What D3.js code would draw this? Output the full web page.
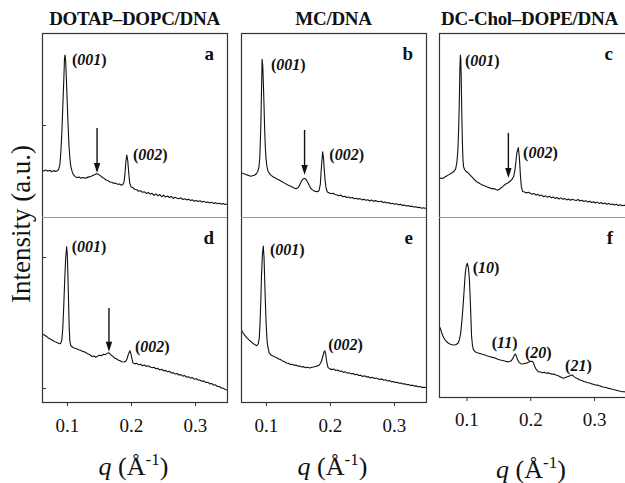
<!DOCTYPE html>
<html>
<head>
<meta charset="utf-8">
<script src="https://cdn.jsdelivr.net/npm/d3@7"></script>
<style>
  body { margin: 0; background: #fff; }
  svg { display: block; }
  text { font-family: "Liberation Serif", "Times New Roman", serif; fill: #111; }
</style>
</head>
<body>
<div id="chart"></div>
<script>
// column titles and q ticks
const titles = ["DOTAP\u2013DOPC/DNA", "MC/DNA", "DC-Chol\u2013DOPE/DNA"];
const qTicks = [0.1, 0.2, 0.3];
const letters = ["a", "b", "c", "d", "e", "f"];

// intensity (a.u.) vs q, [q, I]
const seriesA = [[0.061,25.5],[0.064,25.0],[0.067,25.6],[0.070,24.9],[0.073,25.4],[0.076,24.6],[0.079,25.2],[0.082,24.8],[0.085,25.1],[0.087,25.9],[0.089,28.5],[0.0905,35.5],[0.092,45.7],[0.0935,60],[0.095,74],[0.0962,86.5],[0.097,88.0],[0.098,84.5],[0.099,76],[0.100,66.3],[0.1015,52],[0.103,40],[0.1045,32],[0.106,27.5],[0.108,24.8],[0.110,23.0],[0.113,21.9],[0.116,21.4],[0.119,21.7],[0.122,21.1],[0.125,21.5],[0.128,21.0],[0.131,21.4],[0.134,21.8],[0.137,21.9],[0.140,22.5],[0.143,23.0],[0.146,23.5],[0.149,23.2],[0.152,22.5],[0.155,21.6],[0.158,21.0],[0.161,20.1],[0.164,19.8],[0.167,19.0],[0.170,18.9],[0.173,18.3],[0.176,18.4],[0.179,17.8],[0.182,17.9],[0.185,17.3],[0.187,17.6],[0.189,18.8],[0.1905,23],[0.192,30],[0.1935,33.7],[0.195,30.5],[0.1965,24],[0.198,18.5],[0.200,16.4],[0.203,15.9],[0.206,15.1],[0.209,14.8],[0.212,14.0],[0.215,14.3],[0.218,13.4],[0.221,13.7],[0.224,12.8],[0.227,13.3],[0.230,12.4],[0.233,12.9],[0.236,11.8],[0.239,12.6],[0.242,11.5],[0.245,12.2],[0.248,11.0],[0.251,11.9],[0.254,10.8],[0.257,11.4],[0.260,10.6],[0.263,11.2],[0.266,10.1],[0.269,10.7],[0.272,10.2],[0.275,9.9],[0.278,10.4],[0.281,9.5],[0.284,9.9],[0.287,9.3],[0.290,9.7],[0.293,9.0],[0.296,9.3],[0.299,8.6],[0.302,9.0],[0.305,8.4],[0.308,8.8],[0.311,8.1],[0.314,8.5],[0.317,7.9],[0.320,8.2],[0.323,7.6],[0.326,8.0],[0.329,7.4],[0.332,7.8],[0.335,7.2],[0.338,7.5],[0.341,7.0],[0.344,7.3],[0.347,6.8],[0.350,7.1]];

const seriesB = [[0.061,24.1],[0.064,23.6],[0.067,23.4],[0.070,22.9],[0.073,22.5],[0.076,22.1],[0.079,22.4],[0.082,22.7],[0.085,23.5],[0.087,24.6],[0.089,27],[0.0905,33],[0.092,50],[0.093,68],[0.094,85.7],[0.095,82],[0.096,72],[0.097,60],[0.098,47],[0.099,38],[0.100,32],[0.1015,27.5],[0.103,25.2],[0.105,23.8],[0.108,22.6],[0.111,21.9],[0.114,21.3],[0.117,20.7],[0.120,20.2],[0.123,19.6],[0.126,19.0],[0.129,18.4],[0.132,17.8],[0.135,17.2],[0.138,16.8],[0.141,16.3],[0.144,15.8],[0.147,15.4],[0.150,15.9],[0.152,16.9],[0.154,18.4],[0.156,19.8],[0.158,20.6],[0.160,21.0],[0.162,20.6],[0.164,19.6],[0.166,18.3],[0.168,16.9],[0.170,15.7],[0.172,14.9],[0.175,14.2],[0.178,13.9],[0.181,13.8],[0.183,14.4],[0.185,18],[0.186,24],[0.1875,31],[0.1886,35.5],[0.190,31.5],[0.191,26],[0.1925,19.5],[0.194,15.5],[0.196,13.6],[0.199,13.1],[0.202,12.6],[0.205,12.9],[0.208,12.2],[0.211,12.0],[0.214,11.6],[0.217,11.9],[0.220,11.0],[0.223,11.3],[0.226,10.6],[0.229,10.9],[0.232,10.3],[0.235,10.6],[0.238,9.9],[0.241,10.2],[0.244,9.6],[0.247,10.0],[0.250,9.3],[0.253,9.7],[0.256,9.1],[0.259,9.4],[0.262,8.7],[0.265,9.2],[0.268,8.6],[0.271,8.9],[0.274,8.5],[0.277,8.3],[0.280,8.6],[0.283,7.9],[0.286,8.2],[0.289,7.6],[0.292,7.9],[0.295,7.2],[0.298,7.5],[0.301,6.9],[0.304,7.2],[0.307,6.6],[0.310,6.9],[0.313,6.3],[0.316,6.5],[0.319,6.0],[0.322,6.2],[0.325,5.7],[0.328,5.9],[0.331,5.4],[0.334,5.6],[0.337,5.1],[0.340,5.3],[0.343,4.8],[0.346,5.0],[0.350,4.6]];

const seriesC = [[0.057,20.8],[0.060,21.2],[0.063,20.9],[0.066,21.7],[0.069,22.3],[0.072,22.9],[0.075,23.5],[0.078,24.2],[0.081,25.0],[0.083,26.0],[0.085,29.5],[0.0865,36],[0.0878,48],[0.0888,62],[0.0897,80],[0.0904,88.0],[0.0912,86],[0.092,72],[0.0928,55],[0.0937,40],[0.0946,31],[0.0955,27.4],[0.097,25.8],[0.099,24.9],[0.101,24.5],[0.104,23.4],[0.107,22.3],[0.110,21.2],[0.113,20.1],[0.116,19.2],[0.119,18.6],[0.122,17.9],[0.125,17.4],[0.128,17.0],[0.131,16.6],[0.134,16.1],[0.137,15.8],[0.140,15.3],[0.143,15.5],[0.146,14.9],[0.149,14.6],[0.152,15.2],[0.155,16.0],[0.158,16.9],[0.161,17.8],[0.164,18.4],[0.1657,18.6],[0.168,19.3],[0.171,20.3],[0.174,22.0],[0.176,25.5],[0.1775,30],[0.179,35],[0.1813,37.7],[0.183,32],[0.1845,23],[0.186,16.5],[0.188,13.9],[0.191,13.6],[0.194,13.1],[0.197,13.4],[0.200,12.9],[0.203,12.4],[0.206,12.8],[0.209,11.9],[0.212,12.3],[0.215,11.5],[0.218,11.9],[0.221,11.0],[0.224,11.5],[0.227,10.7],[0.230,11.3],[0.233,10.4],[0.236,10.9],[0.239,10.1],[0.242,10.6],[0.245,9.8],[0.248,10.4],[0.251,9.6],[0.254,10.1],[0.257,9.3],[0.260,9.8],[0.263,9.1],[0.266,9.6],[0.269,9.2],[0.272,9.0],[0.275,9.5],[0.278,8.7],[0.281,9.1],[0.284,8.4],[0.287,8.9],[0.290,8.1],[0.293,8.6],[0.296,7.9],[0.299,8.3],[0.302,7.6],[0.305,8.1],[0.308,7.4],[0.311,7.9],[0.314,7.2],[0.317,7.6],[0.320,6.9],[0.323,7.4],[0.326,6.8],[0.329,7.1],[0.332,6.5],[0.335,6.9],[0.338,6.3],[0.341,6.7],[0.344,6.1],[0.347,6.4],[0.350,6.2]];

const seriesD = [[0.061,37.1],[0.064,36.3],[0.067,35.7],[0.070,34.9],[0.073,34.2],[0.076,33.6],[0.079,33.0],[0.082,32.5],[0.085,32.0],[0.088,31.5],[0.090,31.6],[0.092,33.5],[0.0935,40],[0.095,52],[0.0965,66],[0.098,78],[0.0995,83.9],[0.1005,80],[0.1015,68],[0.1025,54],[0.1035,40],[0.1045,33],[0.106,30.4],[0.109,29.6],[0.112,29.1],[0.115,28.8],[0.118,28.2],[0.121,28.0],[0.124,27.4],[0.127,27.1],[0.130,26.6],[0.133,25.9],[0.136,25.5],[0.139,24.6],[0.142,24.9],[0.145,24.2],[0.148,24.8],[0.151,25.3],[0.154,25.0],[0.157,25.8],[0.160,25.6],[0.163,26.3],[0.1655,26.6],[0.168,25.6],[0.171,24.9],[0.174,23.8],[0.177,23.4],[0.180,22.7],[0.183,22.3],[0.186,21.8],[0.189,21.6],[0.192,22.0],[0.194,23.5],[0.196,25.9],[0.1984,27.7],[0.200,26.0],[0.2015,23.5],[0.203,21.2],[0.206,20.6],[0.209,20.9],[0.212,20.1],[0.215,20.4],[0.218,19.6],[0.221,20.0],[0.224,19.2],[0.227,19.6],[0.230,18.9],[0.233,18.5],[0.236,18.8],[0.239,17.9],[0.242,18.2],[0.245,17.3],[0.248,17.7],[0.251,16.9],[0.254,17.1],[0.257,16.3],[0.260,16.6],[0.263,15.7],[0.266,15.9],[0.269,15.1],[0.272,15.4],[0.275,14.6],[0.278,14.8],[0.281,14.0],[0.284,14.3],[0.287,13.4],[0.290,13.7],[0.293,12.9],[0.296,13.2],[0.299,12.3],[0.302,12.6],[0.305,11.9],[0.308,11.8],[0.311,11.2],[0.314,11.4],[0.317,10.5],[0.320,10.7],[0.323,9.8],[0.326,10.0],[0.329,9.1],[0.332,9.3],[0.335,8.4],[0.338,8.4],[0.341,7.6],[0.344,7.5],[0.347,6.8],[0.350,6.5]];

const seriesE = [[0.061,39.8],[0.063,38.0],[0.065,36.9],[0.068,35.6],[0.071,34.4],[0.074,33.4],[0.077,32.5],[0.080,31.6],[0.083,30.9],[0.0855,30.4],[0.088,31.5],[0.0895,34.5],[0.0906,41.6],[0.092,55],[0.093,68],[0.0945,80],[0.0958,84.3],[0.097,78],[0.098,66],[0.099,55],[0.100,45],[0.101,37],[0.102,32],[0.1035,29],[0.105,26.5],[0.108,25.4],[0.111,24.8],[0.114,24.3],[0.117,23.9],[0.120,23.2],[0.123,22.9],[0.126,22.2],[0.129,21.8],[0.132,21.1],[0.135,20.9],[0.138,20.3],[0.141,20.4],[0.144,19.8],[0.147,20.0],[0.150,19.3],[0.153,19.5],[0.156,18.9],[0.159,19.1],[0.162,18.5],[0.165,18.8],[0.168,18.4],[0.171,18.7],[0.174,18.9],[0.177,19.2],[0.180,19.4],[0.183,19.9],[0.185,20.8],[0.187,22.3],[0.189,25.0],[0.1905,27.0],[0.192,27.7],[0.1935,25.5],[0.195,21.5],[0.197,18.6],[0.200,17.9],[0.203,17.5],[0.206,17.8],[0.209,17.0],[0.212,17.3],[0.215,16.6],[0.218,16.8],[0.221,16.0],[0.224,16.3],[0.227,15.6],[0.230,15.8],[0.233,15.2],[0.236,15.4],[0.239,14.7],[0.242,15.0],[0.245,14.3],[0.248,14.5],[0.251,13.8],[0.254,14.2],[0.257,13.5],[0.260,13.7],[0.263,13.0],[0.266,13.4],[0.269,12.7],[0.272,13.0],[0.275,12.5],[0.278,12.2],[0.281,12.5],[0.284,11.8],[0.287,12.0],[0.290,11.3],[0.293,11.6],[0.296,10.9],[0.299,11.1],[0.302,10.5],[0.305,10.7],[0.308,10.1],[0.311,10.3],[0.314,9.7],[0.317,9.9],[0.320,9.3],[0.323,9.5],[0.326,8.9],[0.329,9.1],[0.332,8.6],[0.335,8.7],[0.338,8.2],[0.341,8.4],[0.344,7.9],[0.347,8.0],[0.350,7.8]];

const seriesF = [[0.057,39.5],[0.059,38.2],[0.061,36.0],[0.063,34.0],[0.066,32.0],[0.069,30.7],[0.072,29.8],[0.075,29.3],[0.078,29.0],[0.081,28.9],[0.084,29.2],[0.087,30.0],[0.089,31.8],[0.091,35.5],[0.093,42.8],[0.095,52],[0.0965,60],[0.098,68],[0.0995,72.5],[0.1014,74.3],[0.103,72],[0.1045,66],[0.1058,56],[0.107,44],[0.108,34],[0.1095,28.5],[0.111,26.2],[0.1135,25.2],[0.117,24.6],[0.121,24.2],[0.125,23.7],[0.129,23.3],[0.133,22.8],[0.137,22.4],[0.141,22.0],[0.145,21.7],[0.149,21.0],[0.153,20.6],[0.157,20.3],[0.161,19.9],[0.165,19.5],[0.168,19.7],[0.170,20.1],[0.1725,21.3],[0.175,23.2],[0.1765,23.9],[0.178,23.0],[0.180,20.8],[0.182,19.4],[0.185,18.5],[0.188,18.3],[0.191,18.6],[0.194,18.8],[0.197,19.3],[0.200,19.8],[0.2025,19.9],[0.204,19.6],[0.2055,18.5],[0.207,17.0],[0.209,15.5],[0.2125,14.1],[0.216,13.9],[0.219,13.5],[0.222,13.7],[0.225,13.2],[0.228,13.4],[0.231,13.0],[0.234,12.7],[0.237,12.8],[0.240,12.2],[0.243,11.9],[0.246,11.4],[0.249,10.8],[0.252,10.4],[0.255,10.8],[0.258,11.2],[0.261,11.6],[0.264,12.2],[0.2665,12.0],[0.269,11.2],[0.272,10.5],[0.275,10.0],[0.278,9.4],[0.281,9.2],[0.284,8.6],[0.287,8.4],[0.290,7.9],[0.293,7.8],[0.296,7.3],[0.299,7.1],[0.302,6.7],[0.305,6.6],[0.308,6.2],[0.311,5.9],[0.314,5.6],[0.317,5.4],[0.320,5.1],[0.323,4.8],[0.326,4.6],[0.329,4.2],[0.332,4.0],[0.335,3.7],[0.338,3.5],[0.341,3.2],[0.344,3.0],[0.347,2.9],[0.350,2.8]];

// peak labels: [text, q, I] (left edge / baseline)
const labelsA = [["001", 0.1078, 82.6], ["002", 0.2031, 31.0]];
const labelsB = [["001", 0.1078, 79.9], ["002", 0.199, 31.0]];
const labelsC = [["001", 0.0978, 82.1], ["002", 0.1887, 32.1]];
const labelsD = [["001", 0.1073, 81.1], ["002", 0.2063, 27.0]];
const labelsE = [["001", 0.1063, 79.5], ["002", 0.1973, 28.1]];
const labelsF = [["10", 0.1099, 68.9], ["11", 0.1397, 27.2], ["20", 0.1918, 21.7], ["21", 0.2545, 14.4]];

// arrows: [q, I at tail, I at tip]
const arrowA = [0.147, 48.4, 23.9];
const arrowB = [0.1603, 47.3, 22.8];
const arrowC = [0.1657, 45.7, 21.2];
const arrowD = [0.1656, 50.8, 27.2];

// unlabeled y ticks on the left column
const yTicksTop = [50];
const yTicksBottom = [7.6, 78.4];

const W = 625, H = 483;
const svg = d3.select("#chart").append("svg").attr("width", W).attr("height", H);

const topY = 33, midY = 217;
const cols = [
  { x0: 42, x1: 227, qmin: 0.061, bottom: 402, pad: 13, xlabY: 475 },
  { x0: 241, x1: 426, qmin: 0.061, bottom: 402, pad: 13, xlabY: 475 },
  { x0: 439, x1: 626, qmin: 0.057, bottom: 397, pad: 12, xlabY: 478 }
];

const panels = [
  { col: 0, row: 0, data: seriesA, labels: labelsA, arrow: arrowA },
  { col: 1, row: 0, data: seriesB, labels: labelsB, arrow: arrowB },
  { col: 2, row: 0, data: seriesC, labels: labelsC, arrow: arrowC },
  { col: 0, row: 1, data: seriesD, labels: labelsD, arrow: arrowD },
  { col: 1, row: 1, data: seriesE, labels: labelsE, arrow: null },
  { col: 2, row: 1, data: seriesF, labels: labelsF, arrow: null }
];

panels.forEach((p, i) => {
  const c = cols[p.col];
  const y0 = p.row === 0 ? topY : midY;
  const y1 = p.row === 0 ? midY : c.bottom;
  const x = d3.scaleLinear().domain([c.qmin, 0.35]).range([c.x0, c.x1]);
  const y = d3.scaleLinear().domain([0, 100]).range([y1, y0]);

  const clipId = "clip" + i;
  svg.append("clipPath").attr("id", clipId)
    .append("rect").attr("x", c.x0).attr("y", y0).attr("width", c.x1 - c.x0).attr("height", y1 - y0);

  const line = d3.line().x(d => x(d[0])).y(d => y(d[1]));
  svg.append("path")
    .datum(p.data)
    .attr("clip-path", `url(#${clipId})`)
    .attr("fill", "none")
    .attr("stroke", "#111")
    .attr("stroke-width", 1.1)
    .attr("stroke-linejoin", "round")
    .attr("d", line);

  // peak labels, e.g. (001) with italic digits
  p.labels.forEach(l => {
    const t = svg.append("text")
      .attr("x", x(l[1]))
      .attr("y", y(l[2]))
      .style("font-size", "16px")
      .style("font-weight", "bold");
    t.append("tspan").text("(");
    t.append("tspan").style("font-style", "italic").text(l[0]);
    t.append("tspan").text(")");
  });

  // arrow
  if (p.arrow) {
    const ax = x(p.arrow[0]);
    const yt = y(p.arrow[1]);
    const yh = y(p.arrow[2]);
    const head = 10;
    svg.append("line")
      .attr("x1", ax).attr("x2", ax)
      .attr("y1", yt).attr("y2", yh - head + 1)
      .attr("stroke", "#111").attr("stroke-width", 1.4);
    svg.append("path")
      .attr("d", `M${ax - 3.2},${yh - head} L${ax + 3.2},${yh - head} L${ax},${yh} Z`)
      .attr("fill", "#111");
  }

  // panel letter
  svg.append("text")
    .attr("x", c.x1 - 13)
    .attr("y", y0 + 27)
    .attr("text-anchor", "end")
    .style("font-size", "19px")
    .style("font-weight", "bold")
    .text(letters[i]);

  // y ticks on the left column only
  if (p.col === 0) {
    const ticks = p.row === 0 ? yTicksTop : yTicksBottom;
    svg.selectAll(null).data(ticks).enter().append("line")
      .attr("x1", c.x0).attr("x2", c.x0 + 4)
      .attr("y1", d => Math.round(y(d)) + 0.5).attr("y2", d => Math.round(y(d)) + 0.5)
      .attr("stroke", "#333").attr("stroke-width", 1);
  }

  // x axis under the bottom row
  if (p.row === 1) {
    const ax = svg.append("g")
      .attr("transform", `translate(0,${c.bottom})`)
      .call(d3.axisBottom(x).tickValues(qTicks).tickSize(4).tickPadding(c.pad).tickFormat(d3.format(".1f")));
    ax.select(".domain").remove();
    ax.selectAll(".tick line").attr("stroke", "#333");
    ax.selectAll(".tick text")
      .style("font-family", "'Liberation Serif', serif")
      .style("font-size", "19px")
      .attr("fill", "#111");
  }
});

// frames
cols.forEach((c, i) => {
  svg.append("rect")
    .attr("x", c.x0 + 0.5).attr("y", topY + 0.5)
    .attr("width", c.x1 - c.x0).attr("height", c.bottom - topY)
    .attr("fill", "none").attr("stroke", "#333").attr("stroke-width", 1.2);
  svg.append("line")
    .attr("x1", c.x0).attr("x2", c.x1)
    .attr("y1", midY + 0.5).attr("y2", midY + 0.5)
    .attr("stroke", "#999").attr("stroke-width", 1.2);

  // column title
  svg.append("text")
    .attr("x", (c.x0 + Math.min(c.x1, 622)) / 2 + (i === 2 ? -1 : 0))
    .attr("y", 25)
    .attr("text-anchor", "middle")
    .style("font-size", "19px")
    .style("font-weight", "bold")
    .style("letter-spacing", "-0.3px")
    .text(titles[i]);

  // x label: q (Å^-1)
  const xl = svg.append("text")
    .attr("x", (c.x0 + Math.min(c.x1, 625)) / 2 - 1)
    .attr("y", c.xlabY)
    .attr("text-anchor", "middle")
    .style("font-size", "26px");
  xl.append("tspan").style("font-style", "italic").text("q");
  xl.append("tspan").text(" (\u00C5");
  xl.append("tspan").attr("dy", -10).style("font-size", "17px").text("-1");
  xl.append("tspan").attr("dy", 10).text(")");
});

// y label
svg.append("text")
  .attr("transform", "translate(30,224) rotate(-90)")
  .attr("text-anchor", "middle")
  .style("font-size", "27px")
  .text("Intensity (a.u.)");
</script>
</body>
</html>
